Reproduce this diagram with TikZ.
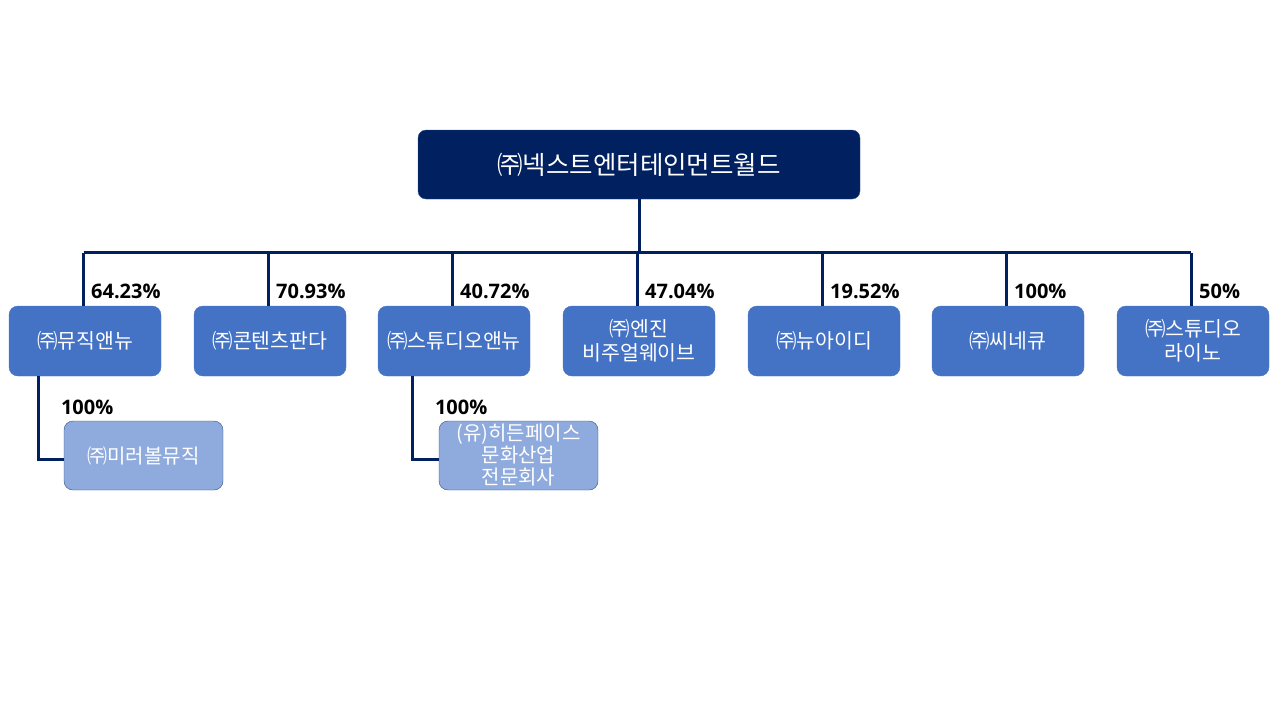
\documentclass[tikz,border=0pt]{standalone}
\usepackage{fontspec}
\setmainfont{Noto Sans CJK KR}
\newfontfamily\pctfont{Open Sans}
\usetikzlibrary{positioning}
\definecolor{navy}{HTML}{002060}
\definecolor{midblue}{HTML}{4472C4}
\definecolor{paleblue}{HTML}{8FAADC}
\definecolor{edgeblue}{HTML}{2F528F}

\begin{document}
\begin{tikzpicture}[x=1pt,y=-1pt]
\tikzstyle{topbox} = [rectangle, draw=edgeblue, fill=navy, text=white, rounded corners=8pt,
minimum width=442pt, minimum height=69pt, font=\fontsize{25.5}{30}\selectfont]
\tikzstyle{subbox} = [rectangle, draw=midblue, fill=midblue, text=white, rounded corners=9pt,
minimum width=152pt, minimum height=70pt, align=center, font=\fontsize{20.5}{24}\selectfont]
\tikzstyle{grandbox} = [rectangle, draw=edgeblue, fill=paleblue, text=white, rounded corners=9pt,
minimum width=159pt, minimum height=69pt, align=center, inner sep=1pt, font=\fontsize{20}{22}\selectfont]
\tikzstyle{pct} = [anchor=base west, inner sep=0pt, font=\pctfont\bfseries\fontsize{20}{22}\selectfont]
\tikzstyle{link} = [draw=navy, line width=3pt]

\useasboundingbox (0,0) rectangle (1280,720);

% row 1
\node [topbox] (top) at (639,164.5) {㈜넥스트엔터테인먼트월드};
% row 2
\node [subbox] (music)   at (85,341)   {㈜뮤직앤뉴};
\node [subbox] (panda)   at (270,341)  {㈜콘텐츠판다};
\node [subbox] (studio)  at (454,341)  {㈜스튜디오앤뉴};
\node [subbox] (engine)  at (639,341)  {㈜엔진\\비주얼웨이브};
\node [subbox] (newid)   at (824,341)  {㈜뉴아이디};
\node [subbox] (cineq)   at (1008,341) {㈜씨네큐};
\node [subbox] (rhino)   at (1193,341) {㈜스튜디오\\라이노};
% row 3
\node [grandbox] (mirror) at (143.5,455.5) {㈜미러볼뮤직};
\node [grandbox] (hidden) at (518.5,455.5) {(유)히든페이스\\문화산업\\전문회사};

\coordinate (bus) at (0,252.5);
\path [link] (top.south) -- (top.south |- bus);
\path [link] ([xshift=-1.5pt]music.north |- bus) -- ([xshift=-2pt]rhino.north |- bus);
\foreach \n in {music,panda,studio,engine,newid,cineq,rhino}
  \path [link] ([xshift=-1.5pt]\n.north |- bus) -- ([xshift=-1.5pt]\n.north);
\path [link] ([xshift=-25pt]mirror.west |- music.south) |- ([yshift=-4pt]mirror.west);
\path [link] ([xshift=-26pt]hidden.west |- studio.south) |- ([yshift=-4pt]hidden.west);

% labels
\node [pct] at ([xshift=6pt,yshift=7pt]music.north) {64.23\%};
\node [pct] at ([xshift=6pt,yshift=7pt]panda.north) {70.93\%};
\node [pct] at ([xshift=6pt,yshift=7pt]studio.north) {40.72\%};
\node [pct] at ([xshift=6pt,yshift=7pt]engine.north) {47.04\%};
\node [pct] at ([xshift=6pt,yshift=7pt]newid.north) {19.52\%};
\node [pct] at ([xshift=6pt,yshift=7pt]cineq.north) {100\%};
\node [pct] at ([xshift=6pt,yshift=7pt]rhino.north) {50\%};
\node [pct] at ([xshift=-3pt,yshift=6pt]mirror.north west) {100\%};
\node [pct] at ([xshift=-4pt,yshift=6pt]hidden.north west) {100\%};

\end{tikzpicture}
\end{document}
